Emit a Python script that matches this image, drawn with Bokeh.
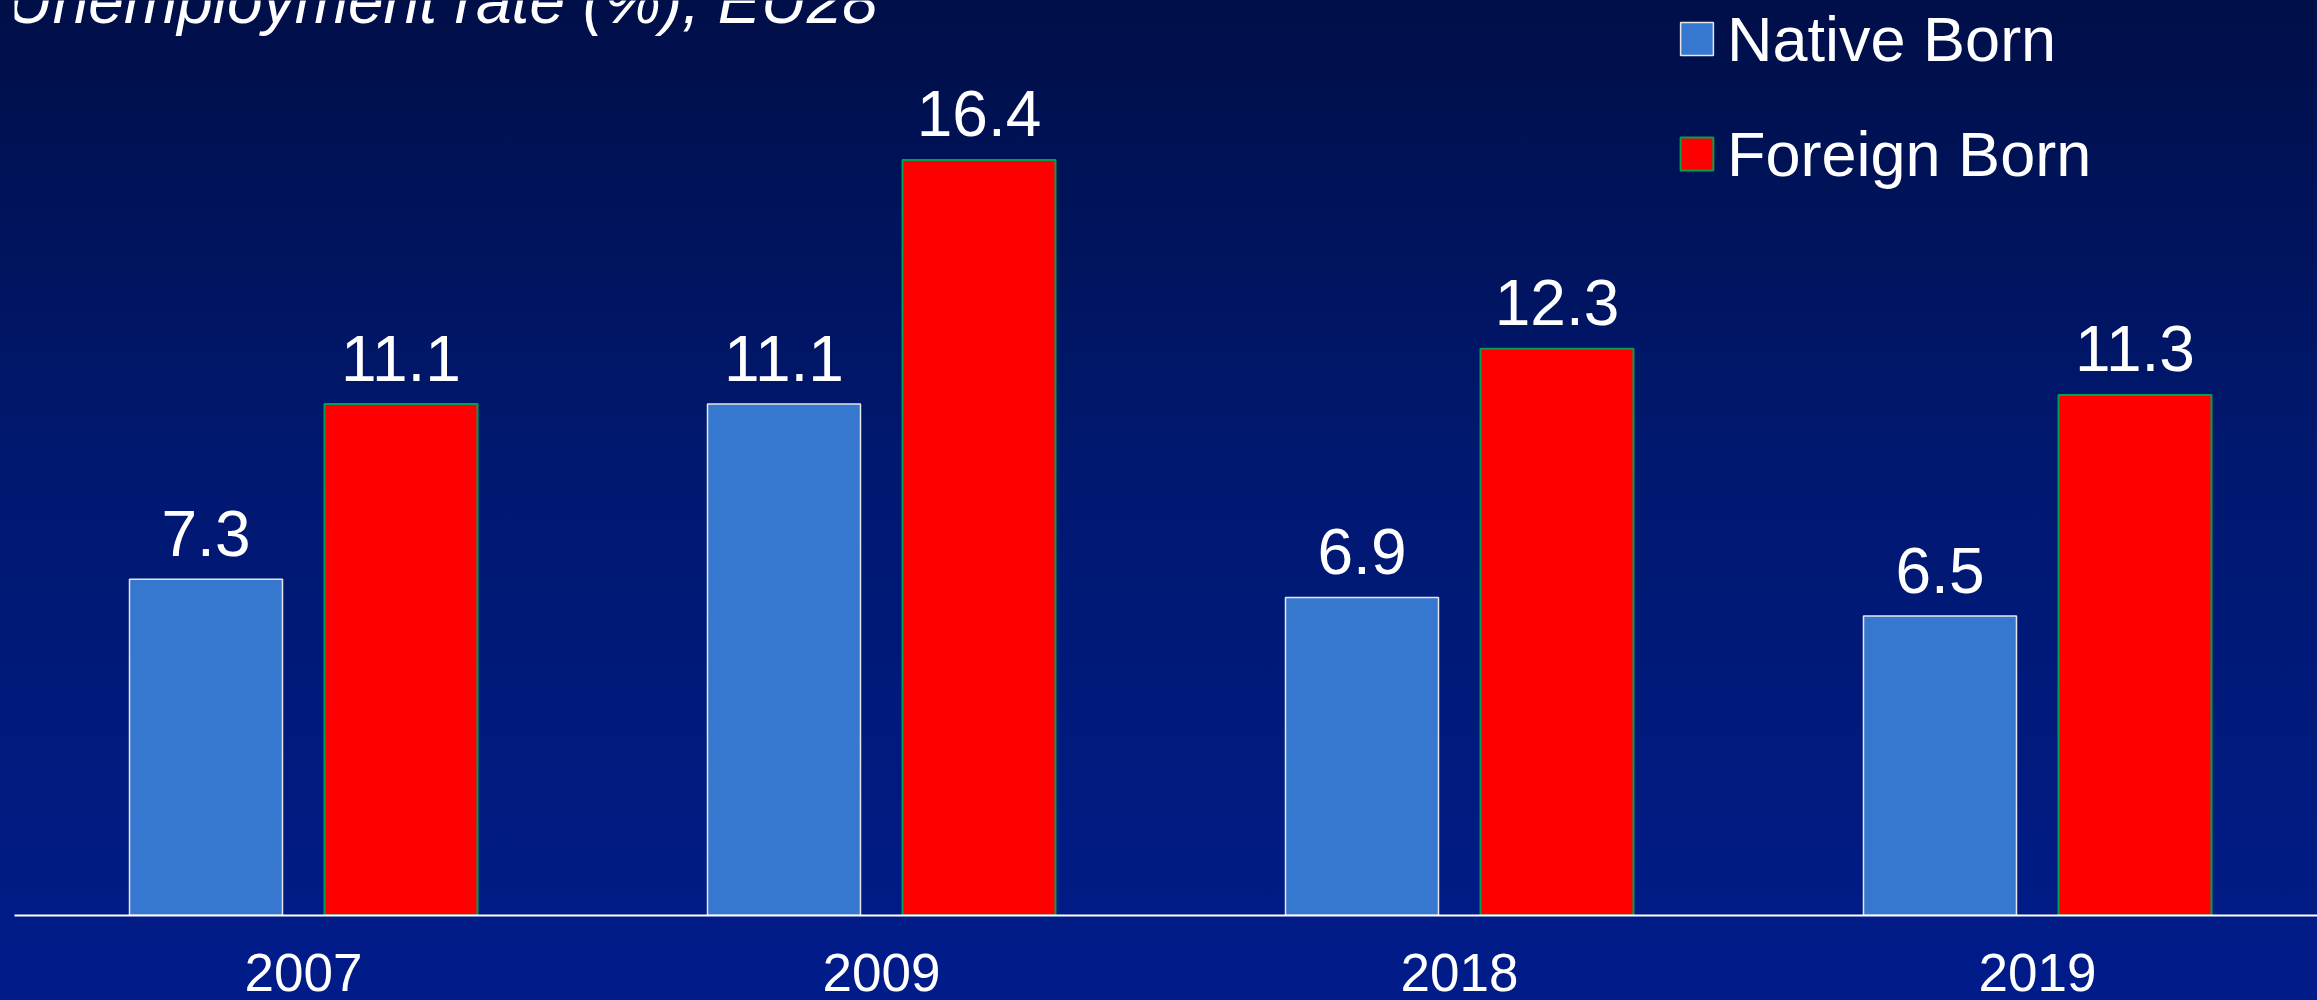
from bokeh.plotting import figure
from bokeh.models import Range1d, FixedTicker, Legend, LegendItem, Label, ColumnDataSource
from bokeh.transform import dodge
from bokeh.embed import file_html
from bokeh.resources import INLINE
from bokeh.core.properties import value

# ---- data ----
years = ["2007", "2009", "2018", "2019"]
native_born = [7.3, 11.1, 6.9, 6.5]
foreign_born = [11.1, 16.4, 12.3, 11.3]
title_text = "Unemployment rate (%), EU28"
series_names = ["Native Born", "Foreign Born"]

FONT = "Liberation Sans"
NATIVE_COLOR = "#3678CF"
FOREIGN_COLOR = "#FF0000"

xpos = list(range(len(years)))
src = ColumnDataSource(dict(
    x=xpos,
    native=native_born,
    foreign=foreign_born,
    native_lbl=[f"{v:.1f}" for v in native_born],
    foreign_lbl=[f"{v:.1f}" for v in foreign_born],
))

W, H = 2317, 1000
px_per_cat = 578.0
frame_left = 14
frame_w = W - frame_left
frame_h = 915
px_per_unit = 46.07
label_gap = 46.0 / px_per_unit   # gap between bar top and value-label anchor

p = figure(
    width=W, height=H,
    output_backend="svg", toolbar_location=None,
    x_range=Range1d(-0.5, -0.5 + frame_w / px_per_cat),
    y_range=Range1d(0, frame_h / px_per_unit),
    y_axis_location=None,
    min_border_left=frame_left, min_border_right=0,
    min_border_top=0, min_border_bottom=H - frame_h,
    outline_line_color=None,
)
p.background_fill_alpha = 0
p.border_fill_alpha = 0
p.styles = {"background": "linear-gradient(to bottom, #000F48 0%, #00186F 45%, #001C8A 100%)"}
p.grid.visible = False

off = 0.1687
bw = 0.2647
r_native = p.vbar(x=dodge("x", -off), top="native", width=bw, source=src,
                  fill_color=NATIVE_COLOR, line_color="#E6E6E6", line_width=1.5)
r_foreign = p.vbar(x=dodge("x", off), top="foreign", width=bw, source=src,
                   fill_color=FOREIGN_COLOR, line_color="#00A050", line_width=2)

p.text(x=dodge("x", -off), y=dodge("native", label_gap), text="native_lbl", source=src,
       text_align="center", text_baseline="alphabetic",
       text_font=value(FONT), text_font_size="64px", text_color="white")
p.text(x=dodge("x", off), y=dodge("foreign", label_gap), text="foreign_lbl", source=src,
       text_align="center", text_baseline="alphabetic",
       text_font=value(FONT), text_font_size="64px", text_color="white")

ax = p.xaxis[0]
ax.ticker = FixedTicker(ticks=xpos)
ax.major_label_overrides = {i: y for i, y in zip(xpos, years)}
ax.major_tick_line_color = None
ax.minor_tick_line_color = None
ax.major_tick_out = 0
ax.axis_line_color = "white"
ax.axis_line_width = 2
ax.major_label_text_color = "white"
ax.major_label_text_font = FONT
ax.major_label_text_font_size = "53px"
ax.major_label_standoff = 38
ax.major_label_text_line_height = 0.7

legend = Legend(
    items=[LegendItem(label=series_names[0], renderers=[r_native]),
           LegendItem(label=series_names[1], renderers=[r_foreign])],
    location=(1662, 704),
    glyph_width=41, glyph_height=41, label_height=115, spacing=0,
    label_standoff=10, padding=0, margin=0,
    label_text_font=FONT, label_text_font_size="63px", label_text_color="white",
    border_line_color=None, background_fill_alpha=0,
)
p.add_layout(legend)

p.add_layout(Label(x=-8, y=frame_h, x_units="screen", y_units="screen",
                   text=title_text, text_font=FONT, text_font_size="64px",
                   text_font_style="italic", text_color="white",
                   text_baseline="alphabetic"))

open("out.html", "w").write(file_html(p, INLINE))
